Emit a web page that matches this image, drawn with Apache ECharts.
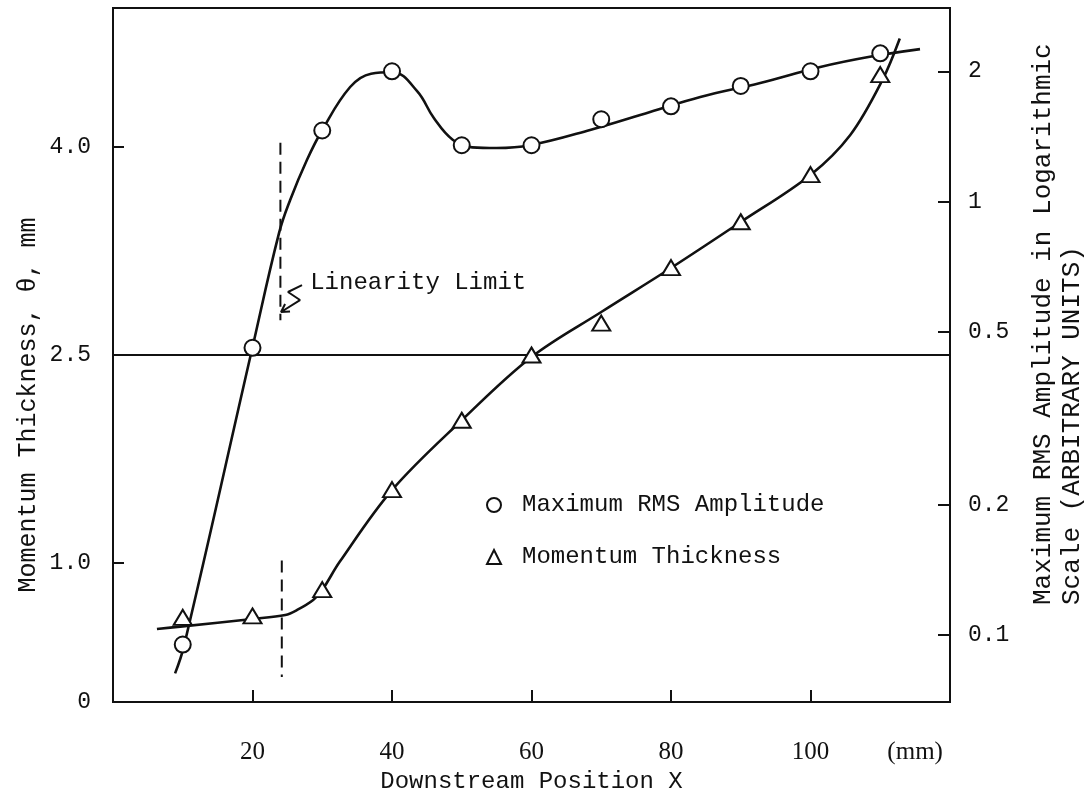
<!DOCTYPE html>
<html><head><meta charset="utf-8">
<script src="https://cdn.jsdelivr.net/npm/echarts@6/dist/echarts.min.js"></script>
<style>html,body{margin:0;padding:0;background:#fff}#c{width:1088px;height:800px}</style>
</head><body><div id="c"></div>
<script>
// ---- data ----
const stations = [10, 20, 30, 40, 50, 60, 70, 80, 90, 100, 110];
const rmsAmplitude = [0.095, 0.46, 1.46, 2.0, 1.35, 1.35, 1.55, 1.66, 1.85, 2.0, 2.2];
const momentumThickness = [0.61, 0.62, 0.81, 1.53, 2.03, 2.5, 2.73, 3.13, 3.46, 3.8, 4.52];

const rmsCurveX = [8.9, 10.2, 19.9, 23.8, 25.4, 27.8, 30, 34, 37, 40.1, 43.6, 46, 48.7, 51.5, 55, 59.8, 68.4, 77, 84.2, 92.8, 101.4, 108.5, 115.7];
const rmsCurveY = [0.0815, 0.0946, 0.454, 0.846, 1.009, 1.248, 1.464, 1.84, 1.975, 1.99, 1.80, 1.56, 1.39, 1.335, 1.33, 1.35, 1.464, 1.611, 1.745, 1.88, 2.046, 2.16, 2.25];

const thetaCurveX = [6.3, 10, 20, 24.7, 26.4, 28.7, 30, 32.5, 40, 50, 60, 70, 80, 90, 100, 105.7, 110.3, 112.8];
const thetaCurveY = [0.526, 0.545, 0.598, 0.627, 0.663, 0.735, 0.807, 1.01, 1.527, 2.03, 2.486, 2.81, 3.127, 3.458, 3.797, 4.085, 4.48, 4.78];

const referenceTheta = 2.5;                     // horizontal reference line
const linearityUpperX = [24, 24], linearityUpperY = [4.03, 2.75];
const linearityLowerX = [24.2, 24.2], linearityLowerY = [1.02, 0.18];
const arrowX = [27.1, 25.09, 26.81, 24.09, 25.38, 24.09, 24.67];
const arrowY = [3.004, 2.954, 2.896, 2.81, 2.813, 2.81, 2.867];
const noteX = [28.2], noteY = [3.02], noteText = 'Linearity Limit';

const xTicks = [20, 40, 60, 80, 100];
const xUnitLabel = '(mm)', xUnitAt = 115;
const thetaTicks = [0, 1.0, 2.5, 4.0];
const rmsTicks = [0.1, 0.2, 0.5, 1, 2];

const nameRms = 'Maximum RMS Amplitude';
const nameTheta = 'Momentum Thickness';
const titleLeft = 'Momentum Thickness, \u03B8, mm';
const titleRight = 'Maximum RMS Amplitude in Logarithmic\nScale (ARBITRARY UNITS)';
const titleX = 'Downstream Position X';

// ---- build ----
const zip = (a, b) => a.map((v, i) => [v, b[i]]);
const MONO = 'Liberation Mono';
const INK = '#111';
const rmsLog = rmsTicks.map(t => Math.log10(t));

const chart = echarts.init(document.getElementById('c'), null, {renderer: 'canvas'});
chart.setOption({
  backgroundColor: '#fff',
  animation: false,
  grid: {left: 113, right: 138, top: 8, bottom: 98, show: true, borderColor: INK, borderWidth: 2},
  xAxis: {
    type: 'value', min: 0, max: 120,
    axisLine: {lineStyle: {color: INK, width: 2}},
    axisTick: {inside: true, length: 12, customValues: xTicks, lineStyle: {color: INK, width: 2}},
    axisLabel: {customValues: xTicks.concat([xUnitAt]), formatter: v => v === xUnitAt ? xUnitLabel : String(v),
      margin: 38, color: INK, fontFamily: 'Liberation Serif', fontSize: 25},
    splitLine: {show: false},
    name: titleX, nameLocation: 'middle', nameGap: 64,
    nameTextStyle: {fontFamily: MONO, fontSize: 24, color: INK}
  },
  yAxis: [{
    type: 'value', min: 0, max: 5, position: 'left',
    axisLine: {show: true, lineStyle: {color: INK, width: 2}},
    axisTick: {show: true, inside: true, length: 11, customValues: thetaTicks.filter(t => t > 0), lineStyle: {color: INK, width: 2}},
    axisLabel: {customValues: thetaTicks, formatter: v => v === 0 ? '0' : v.toFixed(1),
      margin: 22, color: INK, fontFamily: MONO, fontSize: 23},
    splitLine: {show: false}
  }, {
    type: 'log', logBase: 10, min: 0.07, max: 2.8, position: 'right',
    axisLine: {show: true, lineStyle: {color: INK, width: 2}},
    axisTick: {show: false}, axisLabel: {show: false}, splitLine: {show: false}, minorTick: {show: false}
  }, {
    type: 'value', min: Math.log10(0.07), max: Math.log10(2.8), position: 'right',
    axisLine: {show: false},
    axisTick: {show: true, inside: true, length: 12, customValues: rmsLog, lineStyle: {color: INK, width: 2}},
    axisLabel: {customValues: rmsLog, formatter: v => {
        const t = rmsTicks.find(t => Math.abs(Math.log10(t) - v) < 1e-6); return t === undefined ? '' : String(t); },
      margin: 18, color: INK, fontFamily: MONO, fontSize: 23},
    splitLine: {show: false}
  }],
  legend: {
    orient: 'vertical', left: 486, top: 493, padding: 0, itemGap: 28, itemWidth: 14, itemHeight: 14,
    selectedMode: false,
    textStyle: {fontFamily: MONO, fontSize: 24, color: INK, lineHeight: 24, padding: [0, 0, 0, 16]},
    itemStyle: {color: INK, borderColor: INK, borderWidth: 3, opacity: 1},
    data: [{name: nameRms, icon: 'emptyCircle'}, {name: nameTheta, icon: 'emptyTriangle'}]
  },
  graphic: [
    {type: 'text', x: 28, y: 405, rotation: Math.PI / 2,
      style: {text: titleLeft, fill: INK, font: '25px "Liberation Mono"', align: 'center', verticalAlign: 'middle'}},
    {type: 'text', x: 1058, y: 605, rotation: Math.PI / 2,
      style: {text: titleRight, fill: INK, font: '26px "Liberation Mono"', lineHeight: 29, align: 'left', verticalAlign: 'middle'}}
  ],
  series: [
    {type: 'line', yAxisIndex: 1, data: zip(rmsCurveX, rmsCurveY), smooth: 0.4, symbol: 'none',
      lineStyle: {color: INK, width: 2.6}, silent: true, z: 2},
    {type: 'line', yAxisIndex: 0, data: zip(thetaCurveX, thetaCurveY), smooth: 0.35, symbol: 'none',
      lineStyle: {color: INK, width: 2.6}, silent: true, z: 2,
      markLine: {silent: true, symbol: 'none', label: {show: false},
        lineStyle: {color: INK, width: 2, type: 'solid'}, data: [{yAxis: referenceTheta}]}},
    {type: 'line', yAxisIndex: 0, data: zip(linearityUpperX, linearityUpperY), symbol: 'none',
      lineStyle: {color: INK, width: 2, type: [12, 7]}, silent: true, z: 2},
    {type: 'line', yAxisIndex: 0, data: zip(linearityLowerX, linearityLowerY), symbol: 'none',
      lineStyle: {color: INK, width: 2, type: [12, 7]}, silent: true, z: 2},
    {type: 'line', yAxisIndex: 0, data: zip(arrowX, arrowY), symbol: 'none',
      lineStyle: {color: INK, width: 2}, silent: true, z: 2},
    {type: 'scatter', yAxisIndex: 0, data: zip(noteX, noteY), symbolSize: 1,
      itemStyle: {color: 'rgba(0,0,0,0)', opacity: 1}, silent: true, z: 6,
      label: {show: true, position: 'right', distance: 0, formatter: noteText,
        fontFamily: MONO, fontSize: 24, color: INK, opacity: 1}},
    {name: nameRms, type: 'scatter', yAxisIndex: 1, data: zip(stations, rmsAmplitude),
      symbol: 'emptyCircle', symbolSize: 16, itemStyle: {color: INK, borderColor: INK, borderWidth: 2.4, opacity: 1}, z: 5},
    {name: nameTheta, type: 'scatter', yAxisIndex: 0, data: zip(stations, momentumThickness),
      symbol: 'emptyTriangle', symbolSize: [18, 15], itemStyle: {color: INK, borderColor: INK, borderWidth: 2.4, opacity: 1}, z: 5}
  ]
});
</script></body></html>
